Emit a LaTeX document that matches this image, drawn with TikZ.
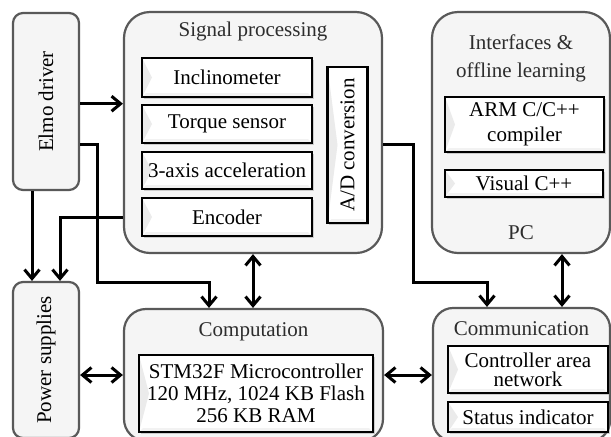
\documentclass[tikz,border=0pt]{standalone}
\usepackage{fontspec}
\setmainfont{Liberation Serif}
\usetikzlibrary{arrows.meta,positioning,shadows}

\tikzset{
  group/.style={draw=gray!70!black, line width=1.1pt, fill=gray!8, rounded corners=12pt, inner sep=0pt},
  sidebox/.style={group, rounded corners=5pt},
  grouptitle/.style={text=gray!35!black, font=\fontsize{10.5}{14}\selectfont, align=center, inner sep=0pt},
  % white button with a soft bevel on the left and bottom
  part/.style={draw=black, line width=1.3pt, fill=white, inner sep=0pt, align=center,
    font=\fontsize{10.5}{11}\selectfont,
    drop shadow={opacity=0.35, shadow xshift=0.8pt, shadow yshift=-0.8pt},
    path picture={
      \fill[gray!16] (path picture bounding box.south west) -- (path picture bounding box.north west)
        -- ([xshift=5pt]path picture bounding box.west) -- cycle;
      \fill[gray!10] (path picture bounding box.south west) -- (path picture bounding box.south east)
        -- ([shift={(-2pt,2pt)}]path picture bounding box.south east)
        -- ([shift={(2pt,2pt)}]path picture bounding box.south west) -- cycle;
    }},
  link/.style={line width=1.5pt, -{Straight Barb[length=4.5pt,width=7.5pt]}},
  duplex/.style={link, {Straight Barb[length=4.5pt,width=7.5pt]}-{Straight Barb[length=4.5pt,width=7.5pt]}}
}

\begin{document}
\begin{tikzpicture}[x=0.5pt, y=-0.5pt]

\useasboundingbox (0,0) rectangle (611,436);
\clip (0,0) rectangle (611,436);

% outer blocks
\node[sidebox, minimum width=33pt, minimum height=88.5pt] (elmo) at (46,101.5)
  {\fontsize{10.5}{12}\selectfont\rotatebox{90}{Elmo driver}};
\node[sidebox, minimum width=33pt, minimum height=78pt] (power) at (46,360)
  {\fontsize{10.5}{12}\selectfont\rotatebox{90}{Power supplies}};
\node[group, rounded corners=13pt, minimum width=129pt, minimum height=120.5pt] (signal) at (253,132.5) {};
\node[group, rounded corners=13pt, minimum width=89pt, minimum height=120.5pt] (pc) at (521,132.5) {};
\node[group, rounded corners=11pt, minimum width=129.5pt, minimum height=66pt] (comp) at (253.5,375) {};
\node[group, rounded corners=10pt, minimum width=88.5pt, minimum height=66.5pt] (comm) at (521.5,374.5) {};

% block titles
\node[grouptitle] (sigtitle) at ([yshift=-10.5pt]signal.north) {Signal processing};
\node[grouptitle] (pctitle) at ([yshift=-23.5pt]pc.north) {Interfaces \&\\offline learning};
\node[grouptitle] (pcname) at ([yshift=10.5pt]pc.south) {PC};
\node[grouptitle] (comptitle) at ([yshift=-12pt]comp.north) {Computation};
\node[grouptitle] (commtitle) at ([yshift=-11pt]comm.north) {Communication};

% sensors
\node[part, minimum width=85pt, minimum height=19.5pt] (incl) at (227,77.5) {Inclinometer};
\node[part, minimum width=85pt, minimum height=19pt] (torque) at (227,124) {Torque sensor};
\node[part, minimum width=85pt, minimum height=18.5pt] (accel) at (227,170.5) {3-axis acceleration};
\node[part, minimum width=85pt, minimum height=19pt] (enc) at (227,217) {Encoder};
\node[part, minimum width=20pt, minimum height=78pt] (ad) at (347.5,145) {\rotatebox{90}{A/D conversion}};

% pc software
\node[part, minimum width=79.5pt, minimum height=27.5pt, font=\fontsize{10.5}{12.5}\selectfont] (arm) at (524.5,124.5) {ARM C/C++\\compiler};
\node[part, minimum width=79pt, minimum height=13.5pt] (visual) at (524,183.5) {Visual C++};

% controller and bus
\node[part, minimum width=117pt, minimum height=38.5pt] (mcu) at (256,393.5)
  {STM32F Microcontroller\\120 MHz, 1024 KB Flash\\256 KB RAM};
\node[part, minimum width=80pt, minimum height=23.5pt, font=\fontsize{10.5}{9.5}\selectfont] (can) at (528,369.5) {Controller area\\network};
\node[part, minimum width=80pt, minimum height=15pt] (status) at (528,417) {Status indicator};

% bend points
\coordinate (elmobend) at (97,282);
\coordinate (compin) at (209,282);
\coordinate (elmoout) at (32,190);
\coordinate (encbend) at (60,217);
\coordinate (adbend) at (413,282);
\coordinate (commin) at (487,282);
\coordinate (pclink) at (562,0);
\coordinate (buslevel) at (0,375);

% connections
\draw[link] (elmo.east |- torque.north) -- (signal.west |- torque.north);
\draw[link] (elmo.east |- torque.south) -| (elmobend) -- (compin) -- (compin |- comp.north);
\draw[link] (elmo.south -| elmoout) -- (power.north -| elmoout);
\draw[link] (signal.west |- enc) -| (encbend |- power.north);
\draw[duplex] (signal.south) -- (signal.south |- comp.north);
\draw[link] (signal.east |- torque.south) -| (adbend) -- (commin) -- (commin |- comm.north);
\draw[duplex] (pc.south -| pclink) -- (comm.north -| pclink);
\draw[duplex] (power.east |- buslevel) -- (comp.west |- buslevel);
\draw[duplex] (comp.east |- buslevel) -- (comm.west |- buslevel);

\end{tikzpicture}
\end{document}
